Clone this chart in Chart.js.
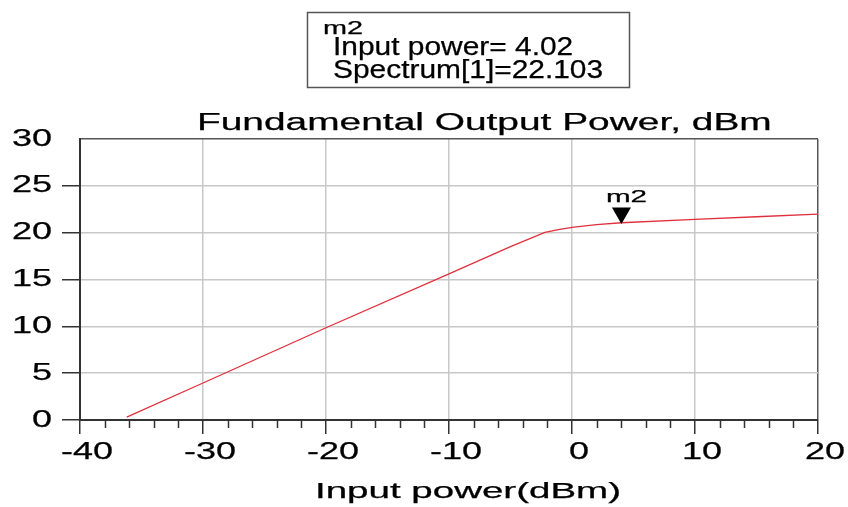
<!DOCTYPE html>
<html>
<head>
<meta charset="utf-8">
<title>Fundamental Output Power</title>
<script src="https://cdn.jsdelivr.net/npm/chart.js@4.4.0/dist/chart.umd.min.js"></script>
<style>
  html, body { margin: 0; padding: 0; background: #fff; }
  #wrap { width: 848px; height: 507px; }
</style>
</head>
<body>
<div id="wrap"><canvas id="pout-chart" width="848" height="507"></canvas></div>
<script>
// Swept input power (dBm) and fundamental output power (dBm)
const inputPower  = [-36.2, -30, -20, -10, -5, -2.2, -1, 0, 2, 4, 10, 15, 20];
const outputPower = [0.3, 3.95, 9.85, 15.6, 18.5, 20.03, 20.35, 20.57, 20.85, 21.06, 21.42, 21.7, 21.97];

// Marker m2 readout
const markerName = 'm2';
const markerInput = 4.02;
const markerOutput = 22.103;

// Axis ranges
const xMin = -40, xMax = 20, xStep = 10, xMinorStep = 2;
const yMin = 0, yMax = 30, yStep = 5;

const chartTitle = 'Fundamental Output Power, dBm';
const xTitle = 'Input power(dBm)';
const markerLines = [
  'Input power= ' + markerInput.toFixed(2),
  'Spectrum[1]=' + markerOutput.toFixed(3)
];

const FONT = '"Liberation Sans", Arial, sans-serif';
const TEXT = '#000';

// The plot uses a wide face: draw text horizontally stretched
const canvas = document.getElementById('pout-chart');
const ctx = canvas.getContext('2d');
const baseFill = ctx.fillText;
const baseStroke = ctx.strokeText;
const baseMeasure = ctx.measureText;

function stretchFor(text) {
  return /^[-\d.]+$/.test(text) ? 1.5 : 1.75;
}

function drawWide(c, text, x, y, sx) {
  c.save();
  c.translate(x, y);
  c.scale(sx, 1);
  baseFill.call(c, text, 0, 0);
  c.strokeStyle = c.fillStyle;
  c.lineWidth = 0.25;
  baseStroke.call(c, text, 0, 0);
  c.restore();
}

ctx.fillText = function (text, x, y) {
  drawWide(this, text, x, y, stretchFor(String(text)));
};
ctx.measureText = function (text) {
  const m = baseMeasure.call(this, text);
  return {
    width: m.width * stretchFor(String(text)),
    actualBoundingBoxAscent: m.actualBoundingBoxAscent,
    actualBoundingBoxDescent: m.actualBoundingBoxDescent
  };
};

// Title, axis title, minor ticks and the marker readout
const decorations = {
  id: 'decorations',
  afterDraw(chart) {
    const c = chart.ctx;
    const xs = chart.scales.x;
    const ys = chart.scales.y;
    const bottom = chart.chartArea.bottom;

    // minor ticks on the x axis
    c.save();
    c.strokeStyle = '#333';
    c.lineWidth = 1.5;
    c.beginPath();
    for (let v = xMin + xMinorStep; v < xMax; v += xMinorStep) {
      if (v % xStep === 0) continue;
      const px = Math.round(xs.getPixelForValue(v)) + 0.5;
      c.moveTo(px, bottom);
      c.lineTo(px, bottom + 8);
    }
    c.stroke();

    c.fillStyle = TEXT;
    c.textBaseline = 'alphabetic';
    c.textAlign = 'left';

    c.font = '23px ' + FONT;
    drawWide(c, chartTitle, 197, 129.5, 1.69);

    c.font = '22px ' + FONT;
    drawWide(c, xTitle, 315, 498, 1.75);

    // marker label above the triangle
    const mx = xs.getPixelForValue(markerInput);
    const my = ys.getPixelForValue(markerOutput);
    c.textAlign = 'center';
    c.font = '17px ' + FONT;
    drawWide(c, markerName, mx + 5, my - 11, 1.74);

    // marker readout box
    c.textAlign = 'left';
    c.fillStyle = '#fff';
    c.fillRect(307, 12, 323, 76);
    c.strokeStyle = '#555';
    c.lineWidth = 1.5;
    c.strokeRect(307.5, 12.5, 322, 75);
    c.fillStyle = TEXT;
    c.font = '18px ' + FONT;
    drawWide(c, markerName, 323, 34, 1.6);
    c.font = '26px ' + FONT;
    drawWide(c, markerLines[0], 333, 55, 1.15);
    drawWide(c, markerLines[1], 333, 78, 1.15);
    c.restore();
  }
};

new Chart(ctx, {
  type: 'scatter',
  data: {
    datasets: [
      {
        label: 'Spectrum[1]',
        data: inputPower.map((x, i) => ({ x: x, y: outputPower[i] })),
        showLine: true,
        borderColor: '#e0303c',
        borderWidth: 1.3,
        pointRadius: 0,
        tension: 0,
        order: 2
      },
      {
        label: markerName,
        data: [{ x: markerInput, y: markerOutput }],
        pointStyle: 'triangle',
        rotation: 180,
        pointRadius: 11,
        backgroundColor: '#000',
        borderColor: '#000',
        borderWidth: 0,
        order: 1
      }
    ]
  },
  options: {
    responsive: false,
    animation: false,
    layout: { padding: { top: 139, right: 30, bottom: 0, left: 0 } },
    plugins: {
      legend: { display: false },
      tooltip: { enabled: false }
    },
    scales: {
      x: {
        type: 'linear',
        min: xMin,
        max: xMax,
        ticks: {
          stepSize: xStep,
          color: TEXT,
          font: { family: FONT, size: 24 },
          padding: 4,
          labelOffset: 7,
          maxRotation: 0,
          autoSkip: false
        },
        grid: {
          color: (c) => c.tick.value === xMax ? '#555' : '#c8c8c8',
          lineWidth: 1.5,
          tickLength: 14,
          tickColor: '#333',
          tickWidth: 1.5
        },
        border: { color: '#333', width: 2 },
        afterFit: (s) => { s.height = 87; }
      },
      y: {
        type: 'linear',
        min: yMin,
        max: yMax,
        ticks: {
          stepSize: yStep,
          color: TEXT,
          font: { family: FONT, size: 24 },
          padding: 10
        },
        grid: {
          color: (c) => c.tick.value === yMax ? '#555' : '#c8c8c8',
          lineWidth: 1.5,
          tickLength: 18,
          tickColor: (c) => c.tick.value === yMax ? 'rgba(0,0,0,0)' : '#333',
          tickWidth: 1.5
        },
        border: { color: '#333', width: 2 },
        afterFit: (s) => { s.width = 80; }
      }
    }
  },
  plugins: [decorations]
});
</script>
</body>
</html>
